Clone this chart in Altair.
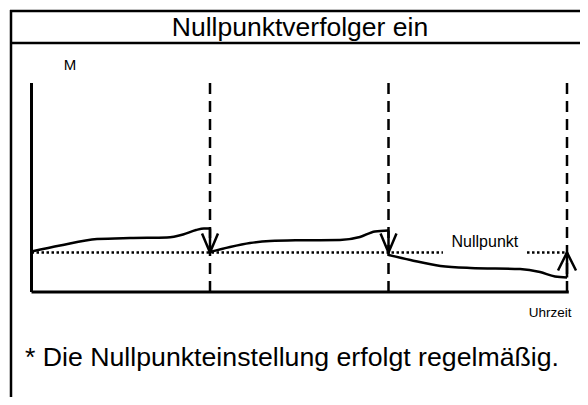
import altair as alt
import pandas as pd

# Time in units of one zero-point adjustment interval, M in arbitrary units (0 = Nullpunkt)
adjust_times = [1.0, 2.0, 3.0]

seg1_t = [0.0, 0.16, 0.367, 0.552, 0.759, 0.849, 0.922, 0.966, 1.0]
seg1_m = [0.1, 0.7, 1.35, 1.45, 1.5, 1.8, 2.25, 2.4, 2.4]

seg2_t = [1.0, 1.112, 1.224, 1.336, 1.504, 1.728, 1.84, 1.924, 2.0]
seg2_m = [0.05, 0.55, 0.95, 1.15, 1.22, 1.25, 1.55, 2.1, 2.2]

seg3_t = [2.0, 2.123, 2.291, 2.459, 2.737, 2.849, 2.933, 3.0]
seg3_m = [-0.25, -0.75, -1.35, -1.55, -1.65, -1.95, -2.4, -2.5]

# corrections at each adjustment: value before -> back to zero
corr_start = [2.4, 2.2, -2.5]
corr_end = [0.0, 0.0, 0.0]
corr_dir = ["down", "down", "up"]

zero_t_start = [0.0, 2.776]
zero_t_end = [2.305, 3.0]

axis_bottom = -3.95
axis_top = 16.95
axis_t_end = 3.01

title_text = "Nullpunktverfolger ein"
footer_text = "* Die Nullpunkteinstellung erfolgt regelmäßig."
y_label = "M"
x_label = "Uhrzeit"
zero_label = "Nullpunkt"

FONT = "Liberation Sans"
W, H = 572, 389

xs = alt.Scale(domain=[-0.1317, 3.0728], nice=False, zero=False)
ys = alt.Scale(domain=[-14.45, 24.45], nice=False, zero=False)


def X(f):
    return alt.X(f, type="quantitative", scale=xs, axis=None)


def Y(f):
    return alt.Y(f, type="quantitative", scale=ys, axis=None)


curve_df = pd.concat([
    pd.DataFrame({"t": seg1_t, "m": seg1_m, "seg": "1"}),
    pd.DataFrame({"t": seg2_t, "m": seg2_m, "seg": "2"}),
    pd.DataFrame({"t": seg3_t, "m": seg3_m, "seg": "3"}),
], ignore_index=True)
curve_df["order"] = range(len(curve_df))

curves = alt.Chart(curve_df).mark_line(
    color="black", strokeWidth=2.5, interpolate="monotone"
).encode(x=X("t"), y=Y("m"), detail="seg:N", order="order:Q")

corr_df = pd.DataFrame({"t": adjust_times, "m1": corr_start, "m2": corr_end, "dir": corr_dir})
shafts = alt.Chart(corr_df).mark_rule(color="black", strokeWidth=2.5).encode(
    x=X("t"), y=Y("m1"), y2="m2"
)
heads_down = alt.Chart(corr_df[corr_df["dir"] == "down"]).mark_point(
    shape="M -0.42 -1 L 0 0 L 0.42 -1", filled=False, size=1444,
    strokeWidth=2.5, color="black", opacity=1
).encode(x=X("t"), y=Y("m2"))
heads_up = alt.Chart(corr_df[corr_df["dir"] == "up"]).mark_point(
    shape="M -0.5 1 L 0 0 L 0.5 1", filled=False, size=1296,
    strokeWidth=2.5, color="black", opacity=1
).encode(x=X("t"), y=Y("m2"))

dash_df = pd.DataFrame({"t": adjust_times, "top": axis_top, "bot": axis_bottom})
dashed = alt.Chart(dash_df).mark_rule(
    color="black", strokeWidth=2.5, strokeDash=[11, 7]
).encode(x=X("t"), y=Y("top"), y2="bot")

zero_df = pd.DataFrame({"t1": zero_t_start, "t2": zero_t_end, "m": 0.0})
zero_line = alt.Chart(zero_df).mark_rule(
    color="black", strokeWidth=2.5, strokeDash=[2.5, 2.5]
).encode(x=X("t1"), x2="t2", y=Y("m"))

yaxis_df = pd.DataFrame({"t": [0.0], "m1": [axis_top], "m2": [axis_bottom]})
yaxis = alt.Chart(yaxis_df).mark_rule(color="black", strokeWidth=3).encode(
    x=X("t"), y=Y("m1"), y2="m2"
)
xaxis_df = pd.DataFrame({"t1": [0.0], "t2": [axis_t_end], "m": [axis_bottom]})
xaxis = alt.Chart(xaxis_df).mark_rule(color="black", strokeWidth=3).encode(
    x=X("t1"), x2="t2", y=Y("m")
)

labels_df = pd.DataFrame({
    "t": [0.215, 2.54, 2.905],
    "m": [18.75, 1.05, -6.0],
    "label": [y_label, zero_label, x_label],
    "size": [15, 16, 13.5],
})
labels = alt.Chart(labels_df).mark_text(
    font=FONT, color="black", align="center", baseline="middle"
).encode(x=X("t"), y=Y("m"), text="label:N", size=alt.Size("size:Q", scale=None, legend=None))

one = pd.DataFrame({"a": [0]})
frame_left = alt.Chart(one).mark_rule(color="black", strokeWidth=2.5).encode(
    x=alt.value(3), y=alt.value(2), y2=alt.value(H)
)
frame_top = alt.Chart(one).mark_rule(color="black", strokeWidth=2.5).encode(
    x=alt.value(2), x2=alt.value(W), y=alt.value(3)
)
frame_sep = alt.Chart(one).mark_rule(color="black", strokeWidth=2.5).encode(
    x=alt.value(2), x2=alt.value(W), y=alt.value(35)
)
title = alt.Chart(one).mark_text(
    text=title_text, font=FONT, fontSize=26.5, color="black", align="center", baseline="middle"
).encode(x=alt.value(292), y=alt.value(20))
footer = alt.Chart(one).mark_text(
    text=footer_text, font=FONT, fontSize=26.7, color="black", align="left", baseline="middle"
).encode(x=alt.value(17), y=alt.value(350))

chart = alt.layer(
    frame_left, frame_top, frame_sep, title, footer,
    dashed, zero_line, yaxis, xaxis, curves, shafts, heads_down, heads_up, labels,
).properties(
    width=W, height=H, padding=0, autosize=alt.AutoSizeParams(type="none")
).configure_view(stroke=None)

chart.save("out.html", embed_options={"renderer": "svg", "actions": False})
